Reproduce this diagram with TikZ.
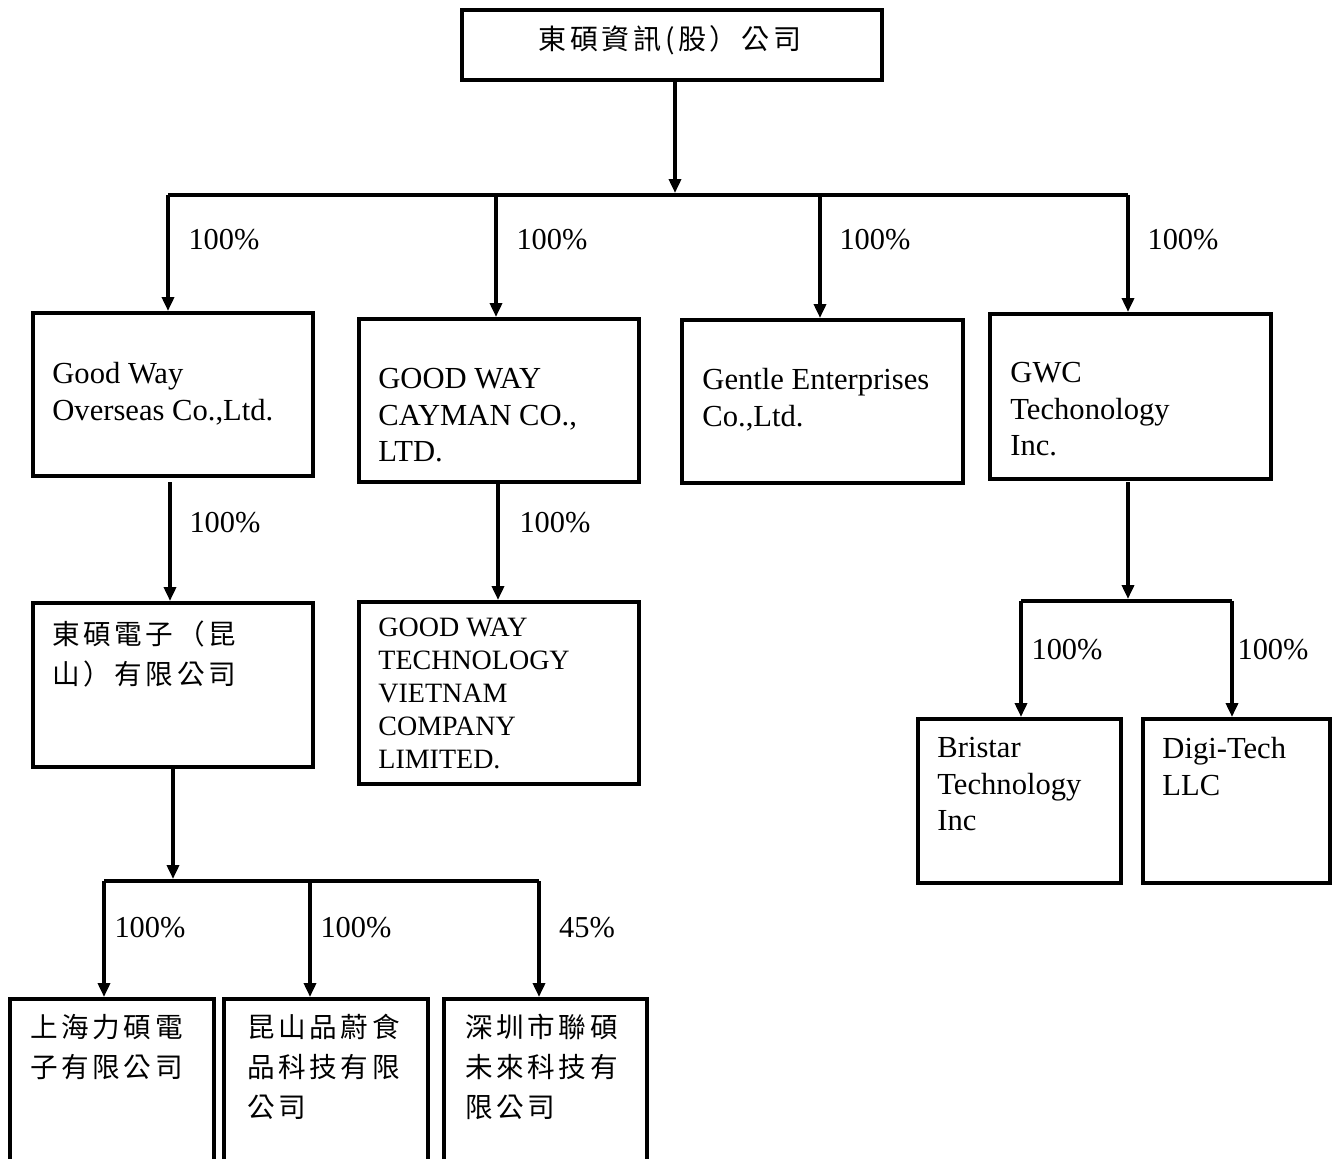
\documentclass[tikz,border=0pt]{standalone}
\usepackage{fontspec}
\setmainfont{Liberation Serif}
\newfontfamily\cjk[LetterSpace=13]{Noto Sans CJK TC}
\usetikzlibrary{arrows.meta}
\begin{document}
\begin{tikzpicture}[x=0.5pt,y=-0.5pt,
  box/.style={draw, line width=1.75pt, anchor=north west, inner sep=0},
  lbl/.style={font=\fontsize{15.2}{18}\selectfont, inner sep=0},
  txt/.style={font=\fontsize{15.3}{18.3}\selectfont, align=left, anchor=north west, inner sep=0},
  ctxt/.style={font=\cjk\fontsize{13.8}{20}\selectfont, align=left, anchor=north west, inner sep=0},
  link/.style={line width=1.75pt},
  arr/.style={line width=1.75pt, -{Triangle[length=7pt,width=6pt]}},
]
\useasboundingbox (0,0) rectangle (1333,1158);

% boxes
\node[box, minimum width=210pt, minimum height=35pt] (top) at (460,8) {};
\node[box, minimum width=140pt, minimum height=81.5pt] (b1) at (31,311) {};
\node[box, minimum width=140pt, minimum height=81.5pt] (b2) at (357,317) {};
\node[box, minimum width=140.5pt, minimum height=81.5pt] (b3) at (680,318) {};
\node[box, minimum width=140.5pt, minimum height=82.5pt] (b4) at (988,312) {};
\node[box, minimum width=140pt, minimum height=82pt] (b5) at (31,601) {};
\node[box, minimum width=140pt, minimum height=91pt] (b6) at (357,600) {};
\node[box, minimum width=101.5pt, minimum height=82pt] (b7) at (916,717) {};
\node[box, minimum width=93.5pt, minimum height=82pt] (b8) at (1141,717) {};
\node[box, minimum width=102pt, minimum height=90pt] (b9) at (8,997) {};
\node[box, minimum width=102pt, minimum height=90pt] (b10) at (222,997) {};
\node[box, minimum width=101.5pt, minimum height=90pt] (b11) at (442,997) {};

% texts
\node[font=\cjk\fontsize{14}{18}\selectfont, inner sep=0] (ttop) at (670,40) {東碩資訊(股）公司};
\node[txt] (t1) at (52,362) {Good Way\\Overseas Co.,Ltd.};
\node[txt] (t2) at (378,368) {GOOD WAY\\CAYMAN CO.,\\LTD.};
\node[txt] (t3) at (702,368) {Gentle Enterprises\\Co.,Ltd.};
\node[txt] (t4) at (1010,362) {GWC\\Techonology\\Inc.};
\node[ctxt] (t5) at (52,620) {東碩電子（昆\\山）有限公司};
\node[txt, font=\fontsize{14}{16.4}\selectfont] (t6) at (378,618) {GOOD WAY\\TECHNOLOGY\\VIETNAM\\COMPANY\\LIMITED.};
\node[txt] (t7) at (937,737) {Bristar\\Technology\\Inc};
\node[txt] (t8) at (1162,737) {Digi-Tech\\LLC};
\node[ctxt] (t9) at (30,1014) {上海力碩電\\子有限公司};
\node[ctxt] (t10) at (247,1014) {昆山品蔚食\\品科技有限\\公司};
\node[ctxt] (t11) at (465,1014) {深圳市聯碩\\未來科技有\\限公司};

% main bus
\coordinate (c0) at (675,195);
\coordinate (bl) at (168,195);
\coordinate (br) at (1128,195);
\draw[arr] (top.south -| c0) -- ([yshift=1pt]c0);
\draw[link] (bl) -- (br);
\draw[arr] (bl) -- (b1.north -| bl);
\draw[arr] (496,195) -- (b2.north -| 496,0);
\draw[arr] (820,195) -- (b3.north -| 820,0);
\draw[arr] (br) -- (b4.north -| br);
\node[lbl] (p1) at (224,240) {100\%};
\node[lbl] (p2) at (552,240) {100\%};
\node[lbl] (p3) at (875,240) {100\%};
\node[lbl] (p4) at (1183,240) {100\%};

% b1 -> b5, b2 -> b6
\coordinate (c15) at (170,482);
\coordinate (c26) at (498,482);
\draw[arr] (c15) -- (b5.north -| c15);
\draw[arr] (c26) -- (b6.north -| c26);
\node[lbl] (p5) at (225,523) {100\%};
\node[lbl] (p6) at (555,523) {100\%};

% b4 -> bus2
\coordinate (c4) at (1128,482);
\coordinate (c4b) at (1128,601);
\coordinate (l2) at (1021,601);
\coordinate (r2) at (1232,601);
\draw[arr] (c4) -- ([yshift=1pt]c4b);
\draw[link] (l2) -- (r2);
\draw[arr] (l2) -- (b7.north -| l2);
\draw[arr] (r2) -- (b8.north -| r2);
\node[lbl] (p7) at (1067,650) {100\%};
\node[lbl] (p8) at (1273,650) {100\%};

% b5 -> bus3
\coordinate (c5b) at (173,881);
\coordinate (l3) at (104,881);
\coordinate (m3) at (310,881);
\coordinate (r3) at (539,881);
\draw[arr] (b5.south -| c5b) -- ([yshift=1pt]c5b);
\draw[link] (l3) -- (r3);
\draw[arr] (l3) -- (b9.north -| l3);
\draw[arr] (m3) -- (b10.north -| m3);
\draw[arr] (r3) -- (b11.north -| r3);
\node[lbl] (p9) at (150,928) {100\%};
\node[lbl] (p10) at (356,928) {100\%};
\node[lbl] (p11) at (587,928) {45\%};
\end{tikzpicture}
\end{document}
